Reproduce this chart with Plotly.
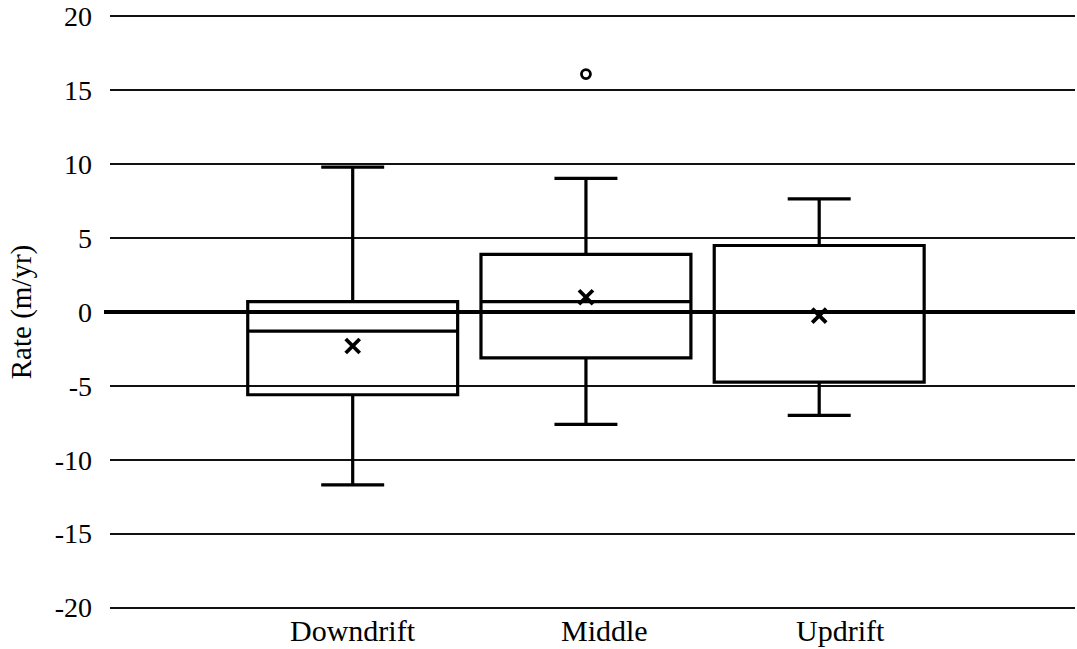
import plotly.graph_objects as go

# ---- data ----
categories = ["Downdrift", "Middle", "Updrift"]
lower_whisker = [-11.7, -7.6, -7.0]
q1_vals = [-5.6, -3.1, -4.75]
median_vals = [-1.3, 0.7, 0.0]
q3_vals = [0.7, 3.9, 4.5]
upper_whisker = [9.8, 9.05, 7.65]
mean_vals = [-2.3, 1.0, -0.25]
outlier_cat = ["Middle"]
outlier_vals = [16.1]
label_pos = [0.0, 1.08, 2.09]   # where the category labels sit along the x axis
y_ticks = [-20, -15, -10, -5, 0, 5, 10, 15, 20]
y_ticktext = ["-20", "-15", "-10", "-5", "0", "5", "10", "15", "20"]

FONT = "Liberation Serif"
xpos = list(range(len(categories)))
cat_index = {c: i for i, c in enumerate(categories)}

fig = go.Figure()

fig.add_trace(go.Box(
    x=xpos,
    q1=q1_vals, median=median_vals, q3=q3_vals,
    lowerfence=lower_whisker, upperfence=upper_whisker,
    width=0.9, whiskerwidth=0.3,
    line=dict(color="black", width=3.2),
    fillcolor="rgba(0,0,0,0)",
    boxpoints=False,
    showlegend=False,
))

fig.add_trace(go.Scatter(
    x=xpos, y=mean_vals, mode="markers",
    marker=dict(symbol="x-thin", size=14, color="black",
                line=dict(color="black", width=3.8)),
    showlegend=False,
))

fig.add_trace(go.Scatter(
    x=[cat_index[c] for c in outlier_cat], y=outlier_vals, mode="markers",
    marker=dict(symbol="circle-open", size=9, color="black",
                line=dict(color="black", width=2.8)),
    showlegend=False,
))

# thick zero line running slightly past the left edge of the plot area
fig.add_shape(type="line", xref="x domain", yref="y",
              x0=-6 / 965, x1=1, y0=0, y1=0,
              line=dict(color="black", width=4), layer="above")

for name, xp in zip(categories, label_pos):
    fig.add_annotation(x=xp, xref="x", y=0, yref="paper",
                       yanchor="top", xanchor="center",
                       text=name, showarrow=False, yshift=-3,
                       font=dict(family=FONT, size=30, color="black"))

fig.update_layout(
    width=1077, height=649,
    margin=dict(l=110, r=2, t=15, b=40),
    plot_bgcolor="white", paper_bgcolor="white",
    font=dict(family=FONT, color="black"),
    showlegend=False,
    xaxis=dict(range=[-1.0405, 3.0967], showticklabels=False,
               showgrid=False, zeroline=False, showline=False, ticks=""),
    yaxis=dict(range=[-20.1, 20.1], tickvals=y_ticks, ticktext=y_ticktext,
               showgrid=True, gridcolor="#111111", gridwidth=1.7,
               zeroline=False, showline=False, ticks="",
               ticklabelstandoff=17,
               tickfont=dict(family=FONT, size=28, color="black"),
               title=dict(text="Rate (m/yr)", standoff=14,
                          font=dict(family=FONT, size=29, color="black"))),
)

fig.write_html("out.html")
